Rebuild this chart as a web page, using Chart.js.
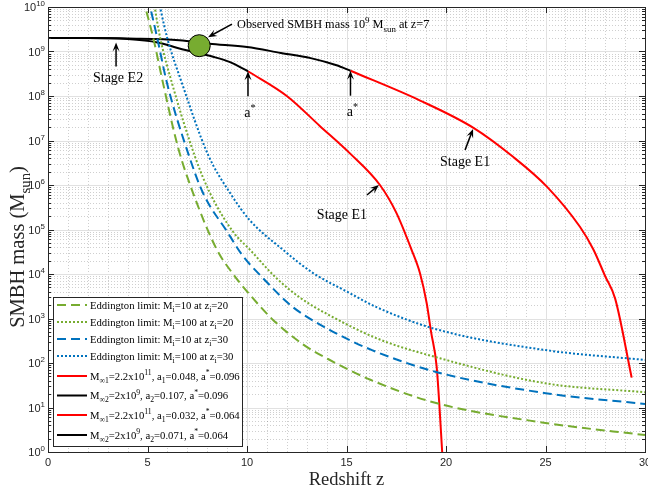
<!DOCTYPE html>
<html>
<head>
<meta charset="utf-8">
<script src="https://cdn.jsdelivr.net/npm/chart.js@4.4.0/dist/chart.umd.min.js"></script>
<style>
  html, body { margin: 0; padding: 0; background: #fff; }
  canvas { display: block; }
</style>
</head>
<body>
<canvas id="smbhChart" width="648" height="490"></canvas>
<script>
// ---- data (redshift z, SMBH mass in M_sun) ----
const xTicks = [0, 5, 10, 15, 20, 25, 30];
const yDecades = [0, 1, 2, 3, 4, 5, 6, 7, 8, 9, 10];

// Eddington limit, Mi=10 at zi=20
const edd1Z = [4.76, 5.28, 5.78, 6.53, 7.29, 8.49, 9.3, 10.15, 11.31, 12.81, 14.07, 16.2, 19.5, 25, 30];
const edd1M = [1.6e10, 2.1e9, 1.95e8, 7.1e6, 6.6e5, 3.5e4, 1.0e4, 3.4e3, 930, 263, 123, 42, 12.6, 4.5, 2.4];
// Eddington limit, Mi=100 at zi=20
const edd2Z = [5.28, 5.63, 6.23, 7.39, 8.14, 9.3, 10.15, 11.5, 12.66, 14.07, 16.58, 19.5, 25, 30];
const edd2M = [1.6e10, 2.1e9, 1.95e8, 4.3e6, 6.6e5, 8.9e4, 3.5e4, 7.9e3, 2.95e3, 1.23e3, 350, 135, 35, 22];
// Eddington limit, Mi=10 at zi=30
const edd3Z = [5.03, 5.48, 5.98, 7.04, 7.79, 9.05, 9.75, 10.8, 12.31, 14.17, 16.28, 19.5, 25, 30];
const edd3M = [1.6e10, 2.1e9, 1.95e8, 5.2e6, 6.6e5, 8.3e4, 2.7e4, 8.1e3, 1.8e3, 550, 195, 63, 21, 12];
// Eddington limit, Mi=100 at zi=30
const edd4Z = [5.53, 5.98, 6.73, 8.04, 9.15, 10.15, 11.81, 13.32, 15.03, 16.58, 19.5, 25, 30];
const edd4M = [1.6e10, 2.1e9, 1.95e8, 4.8e6, 6.6e5, 1.6e5, 3.5e4, 1.05e4, 4.0e3, 1.74e3, 575, 195, 117];

// a* = 0.096 : stage E2 (black) then stage E1 (red)
const blackHiZ = [0, 2, 4, 6.6, 8.1, 10, 11.7, 13.2, 14.5, 15.2];
const blackHiM = [2e9, 2e9, 1.95e9, 1.8e9, 1.5e9, 1.26e9, 9.3e8, 7.1e8, 4.9e8, 3.7e8];
const redHiZ = [15.2, 18.7, 21.4, 23.37, 25.08, 26.73, 27.4, 28.0, 28.5, 29.33];
const redHiM = [3.7e8, 7.9e7, 1.9e7, 4.3e6, 9.1e5, 1.15e5, 3.6e4, 8.9e3, 2.8e3, 47];

// a* = 0.064
const blackLoZ = [0, 2, 4, 5.5, 6.6, 8.3, 9.15, 10.05];
const blackLoM = [2e9, 2e9, 1.9e9, 1.6e9, 1.17e9, 7.6e8, 5.75e8, 3.6e8];
const redLoZ = [10.05, 12.0, 13.67, 15.2, 16.68, 17.5, 18.27, 18.69, 19.03, 19.25, 19.53, 19.85];
const redLoM = [3.6e8, 1.0e8, 2.1e7, 5.0e6, 1.0e6, 2.4e5, 3.5e4, 1.05e4, 2.2e3, 500, 83, 0.5];

// observed quasar
const obsZ = [7.6];
const obsM = [1.35e9];

const GREEN = '#77AC30', BLUE = '#0072BD', RED = '#FF0000', BLACK = '#000000';
const DASH = [9, 5], DOT = [2, 2];
const SERIF = '"Liberation Serif", "Times New Roman", serif';
const SANS = '"Liberation Sans", Arial, sans-serif';
const AXIS = '#262626';

// legend rows: [colour, dash, rich text parts]
const legendRows = [
    [GREEN, DASH, [['Eddington limit: M', ''], ['i', 'sub'], ['=10 at z', ''], ['i', 'sub'], ['=20', '']]],
    [GREEN, DOT, [['Eddington limit: M', ''], ['i', 'sub'], ['=100 at z', ''], ['i', 'sub'], ['=20', '']]],
    [BLUE, DASH, [['Eddington limit: M', ''], ['i', 'sub'], ['=10 at z', ''], ['i', 'sub'], ['=30', '']]],
    [BLUE, DOT, [['Eddington limit: M', ''], ['i', 'sub'], ['=100 at z', ''], ['i', 'sub'], ['=30', '']]],
    [RED, [], [['M', ''], ['\u221E1', 'sub'], ['=2.2x10', ''], ['11', 'sup'], [', a', ''], ['1', 'sub'], ['=0.048, a', ''], ['*', 'sup'], ['=0.096', '']]],
    [BLACK, [], [['M', ''], ['\u221E2', 'sub'], ['=2x10', ''], ['9', 'sup'], [', a', ''], ['2', 'sub'], ['=0.107, a', ''], ['*', 'sup'], ['=0.096', '']]],
    [RED, [], [['M', ''], ['\u221E1', 'sub'], ['=2.2x10', ''], ['11', 'sup'], [', a', ''], ['1', 'sub'], ['=0.032, a', ''], ['*', 'sup'], ['=0.064', '']]],
    [BLACK, [], [['M', ''], ['\u221E2', 'sub'], ['=2x10', ''], ['9', 'sup'], [', a', ''], ['2', 'sub'], ['=0.071, a', ''], ['*', 'sup'], ['=0.064', '']]]
];

// arrows: tip in data coords, tail and text as pixel offsets from the tip
const notes = [
    { z: 8.04, m: 2.1e9, tail: [24, -13], txt: [29, -13], align: 'left', size: 12.3,
      parts: [['Observed SMBH mass 10', ''], ['9', 'sup'], [' M', ''], ['sun', 'sub'], [' at z=7', '']] },
    { z: 3.42, m: 1.6e9, tail: [0, 24], txt: [2, 35], align: 'center', size: 14, parts: [['Stage E2', '']] },
    { z: 10.05, m: 3.6e8, tail: [0, 25], txt: [2, 41], align: 'center', size: 14, parts: [['a', ''], ['*', 'sup']] },
    { z: 15.2, m: 3.7e8, tail: [0, 25], txt: [2, 41], align: 'center', size: 14, parts: [['a', ''], ['*', 'sup']] },
    { z: 16.63, m: 1.0e6, tail: [-12, 10], txt: [-37, 29], align: 'center', size: 14, parts: [['Stage E1', '']] },
    { z: 21.36, m: 1.82e7, tail: [-8, 21], txt: [-8, 32], align: 'center', size: 14, parts: [['Stage E1', '']] }
];

function series(zs, ms) {
    return zs.map((z, i) => ({ x: z, y: ms[i] }));
}

function lineSet(zs, ms, color, dash) {
    return {
        data: series(zs, ms),
        borderColor: color,
        borderDash: dash,
        borderWidth: 2,
        pointRadius: 0,
        fill: false,
        cubicInterpolationMode: 'monotone',
        clip: 0
    };
}

// text with sub/superscripts, y is the baseline
function drawRich(ctx, x, y, parts, size, align, font) {
    const small = size * 0.72;
    let total = 0;
    const widths = parts.map(p => {
        ctx.font = (p[1] ? small : size) + 'px ' + font;
        const w = ctx.measureText(p[0]).width;
        total += w;
        return w;
    });
    let cx = align === 'center' ? x - total / 2 : align === 'right' ? x - total : x;
    ctx.textAlign = 'left';
    ctx.textBaseline = 'alphabetic';
    parts.forEach((p, i) => {
        ctx.font = (p[1] ? small : size) + 'px ' + font;
        let dy = 0;
        if (p[1] === 'sub') dy = size * 0.3;
        if (p[1] === 'sup') dy = -size * 0.42;
        ctx.fillText(p[0], cx, y + dy);
        cx += widths[i];
    });
}

function drawArrow(ctx, x1, y1, x2, y2) {
    const L = 9, W = 7;
    const ang = Math.atan2(y2 - y1, x2 - x1);
    const ux = Math.cos(ang), uy = Math.sin(ang);
    ctx.setLineDash([]);
    ctx.strokeStyle = '#000';
    ctx.lineWidth = 1.5;
    ctx.beginPath();
    ctx.moveTo(x1, y1);
    ctx.lineTo(x2 - ux * L * 0.5, y2 - uy * L * 0.5);
    ctx.stroke();
    ctx.fillStyle = '#000';
    ctx.beginPath();
    ctx.moveTo(x2, y2);
    ctx.lineTo(x2 - ux * L - uy * W / 2, y2 - uy * L + ux * W / 2);
    ctx.lineTo(x2 - ux * L * 0.6, y2 - uy * L * 0.6);
    ctx.lineTo(x2 - ux * L + uy * W / 2, y2 - uy * L - ux * W / 2);
    ctx.closePath();
    ctx.fill();
}

const matlabAxes = {
    id: 'matlabAxes',
    beforeDatasetsDraw(chart) {
        const { ctx, chartArea: a, scales: { x, y } } = chart;
        ctx.save();
        ctx.lineWidth = 1;
        // minor grid, dotted
        ctx.strokeStyle = 'rgba(38,38,38,0.22)';
        ctx.setLineDash([1, 2]);
        ctx.beginPath();
        for (let z = xTicks[0]; z <= xTicks[xTicks.length - 1]; z++) {
            if (xTicks.includes(z)) continue;
            const px = Math.round(x.getPixelForValue(z)) + 0.5;
            ctx.moveTo(px, a.top); ctx.lineTo(px, a.bottom);
        }
        yDecades.slice(0, -1).forEach(e => {
            for (let k = 2; k <= 9; k++) {
                const py = Math.round(y.getPixelForValue(k * Math.pow(10, e))) + 0.5;
                ctx.moveTo(a.left, py); ctx.lineTo(a.right, py);
            }
        });
        ctx.stroke();
        // major grid
        ctx.setLineDash([]);
        ctx.strokeStyle = '#e1e1e1';
        ctx.beginPath();
        xTicks.forEach(z => {
            const px = Math.round(x.getPixelForValue(z)) + 0.5;
            ctx.moveTo(px, a.top); ctx.lineTo(px, a.bottom);
        });
        yDecades.forEach(e => {
            const py = Math.round(y.getPixelForValue(Math.pow(10, e))) + 0.5;
            ctx.moveTo(a.left, py); ctx.lineTo(a.right, py);
        });
        ctx.stroke();
        ctx.restore();
    },
    afterDatasetsDraw(chart) {
        const { ctx, chartArea: a, scales: { x, y } } = chart;
        ctx.save();

        // annotations
        notes.forEach(n => {
            const px = x.getPixelForValue(n.z), py = y.getPixelForValue(n.m);
            drawArrow(ctx, px + n.tail[0], py + n.tail[1], px, py);
            ctx.fillStyle = '#000';
            drawRich(ctx, px + n.txt[0], py + n.txt[1] + n.size * 0.33, n.parts, n.size, n.align, SERIF);
        });

        // legend
        const lx = 53.5, ly = 297.5, lw = 189, lh = 149;
        ctx.fillStyle = '#fff';
        ctx.fillRect(lx, ly, lw, lh);
        ctx.strokeStyle = AXIS;
        ctx.lineWidth = 1;
        ctx.setLineDash([]);
        ctx.strokeRect(lx, ly, lw, lh);
        const rowY = [305, 322, 339, 356, 376, 395.5, 415, 435];
        legendRows.forEach((r, i) => {
            const yy = rowY[i];
            ctx.strokeStyle = r[0];
            ctx.lineWidth = 2;
            ctx.setLineDash(r[1]);
            ctx.beginPath();
            ctx.moveTo(57, yy); ctx.lineTo(87, yy);
            ctx.stroke();
            ctx.fillStyle = '#000';
            drawRich(ctx, 90, yy + 3.6, r[2], 10.7, 'left', SERIF);
        });
        ctx.setLineDash([]);

        // box
        ctx.strokeStyle = AXIS;
        ctx.lineWidth = 1;
        ctx.strokeRect(Math.round(a.left) + 0.5, Math.round(a.top) + 0.5,
            Math.round(a.right - a.left), Math.round(a.bottom - a.top));

        // ticks
        ctx.beginPath();
        xTicks.forEach(z => {
            const px = Math.round(x.getPixelForValue(z)) + 0.5;
            ctx.moveTo(px, a.bottom); ctx.lineTo(px, a.bottom - 6);
            ctx.moveTo(px, a.top); ctx.lineTo(px, a.top + 6);
        });
        yDecades.forEach(e => {
            const py = Math.round(y.getPixelForValue(Math.pow(10, e))) + 0.5;
            ctx.moveTo(a.left, py); ctx.lineTo(a.left + 6, py);
            ctx.moveTo(a.right, py); ctx.lineTo(a.right - 6, py);
            if (e === yDecades[yDecades.length - 1]) return;
            for (let k = 2; k <= 9; k++) {
                const my = Math.round(y.getPixelForValue(k * Math.pow(10, e))) + 0.5;
                ctx.moveTo(a.left, my); ctx.lineTo(a.left + 3, my);
                ctx.moveTo(a.right, my); ctx.lineTo(a.right - 3, my);
            }
        });
        ctx.stroke();

        // tick labels
        ctx.fillStyle = AXIS;
        ctx.font = '11px ' + SANS;
        ctx.textAlign = 'center';
        ctx.textBaseline = 'middle';
        xTicks.forEach(z => ctx.fillText(String(z), x.getPixelForValue(z), a.bottom + 11));
        yDecades.forEach(e => {
            const py = y.getPixelForValue(Math.pow(10, e));
            drawRich(ctx, a.left - 3, py + 4, [['10', ''], [String(e), 'sup']], 11, 'right', SANS);
        });

        // axis titles
        ctx.fillStyle = AXIS;
        drawRich(ctx, (a.left + a.right) / 2, 485, [['Redshift z', '']], 18.5, 'center', SERIF);
        ctx.translate(24, 247);
        ctx.rotate(-Math.PI / 2);
        drawRich(ctx, 0, 0, [['SMBH mass (M', ''], ['sun', 'sub'], [')', '']], 20.5, 'center', SERIF);
        ctx.restore();
    }
};

const ctx = document.getElementById('smbhChart').getContext('2d');
new Chart(ctx, {
    type: 'line',
    data: {
        datasets: [
            {
                data: series(obsZ, obsM),
                showLine: false,
                pointRadius: 11,
                pointBackgroundColor: GREEN,
                pointBorderColor: '#000',
                pointBorderWidth: 1
            },
            lineSet(edd1Z, edd1M, GREEN, DASH),
            lineSet(edd2Z, edd2M, GREEN, DOT),
            lineSet(edd3Z, edd3M, BLUE, DASH),
            lineSet(edd4Z, edd4M, BLUE, DOT),
            lineSet(blackHiZ, blackHiM, BLACK, []),
            lineSet(blackLoZ, blackLoM, BLACK, []),
            lineSet(redHiZ, redHiM, RED, []),
            lineSet(redLoZ, redLoM, RED, [])
        ]
    },
    options: {
        responsive: false,
        animation: false,
        events: [],
        layout: { autoPadding: false, padding: { top: 7, right: 3, left: 0, bottom: 0 } },
        plugins: { legend: { display: false }, tooltip: { enabled: false } },
        scales: {
            x: {
                type: 'linear', min: 0, max: 30,
                grid: { display: false, drawTicks: false },
                border: { display: false },
                ticks: { display: false },
                afterFit: s => { s.height = 38; }
            },
            y: {
                type: 'logarithmic', min: 1, max: 1e10,
                grid: { display: false, drawTicks: false },
                border: { display: false },
                ticks: { display: false },
                afterFit: s => { s.width = 48; }
            }
        }
    },
    plugins: [matlabAxes]
});
</script>
</body>
</html>
